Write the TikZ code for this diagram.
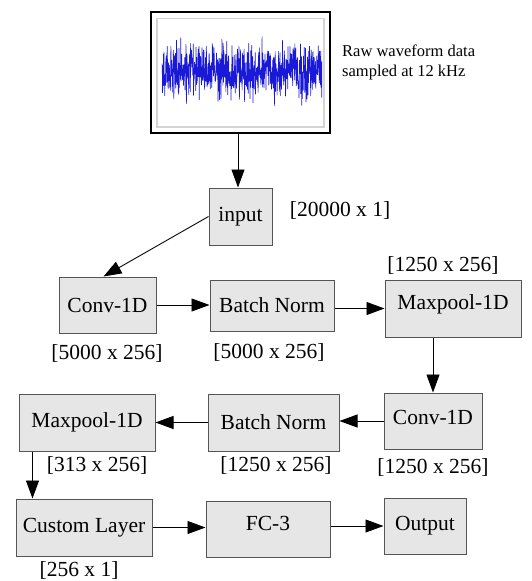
\documentclass[tikz,border=0pt]{standalone}
\usepackage{fontspec}
\setmainfont{Liberation Serif}
\usetikzlibrary{arrows.meta}
\definecolor{boxfill}{RGB}{230,230,230}
\definecolor{boxline}{RGB}{85,85,85}
\definecolor{wblue}{RGB}{25,25,215}
\definecolor{frame}{RGB}{212,212,212}
\tikzset{
  layer/.style={draw=boxline, fill=boxfill, line width=1pt, inner sep=0pt, font=\fontsize{21.5}{24}\selectfont},
  dimlabel/.style={inner sep=0pt, font=\fontsize{21.5}{24}\selectfont},
  flow/.style={-{Triangle[length=18pt,width=13pt]}, line width=0.9pt, black},
}
\begin{document}
\begin{tikzpicture}[x=1pt,y=-1pt]
\useasboundingbox (0,0) rectangle (532,581);
% waveform image
\node[draw=black, line width=1.1pt, fill=white, minimum width=179pt, minimum height=121pt, inner sep=0pt] (wave) at (240.5,72.5) {};
\draw[frame, line width=1.2pt] (157,18.5) rectangle (324,127);
\pgfmathsetseed{11}
\begin{scope}
\clip (159,21) rectangle (322,124);
\draw[wblue, line width=0.65pt, line join=round] plot[domain=162:322, samples=650] (\x,{72+13.5*(rand+rand+rand)});
\end{scope}
\node[anchor=west, inner sep=0pt, align=left, font=\fontsize{16.5}{20}\selectfont] (rawtxt) at (342,62) {Raw waveform data\\sampled at 12 kHz};
% layers
\node[layer, minimum width=63pt, minimum height=57pt] (input) at (240.5,216.5) {input};
\node[layer, minimum width=97pt, minimum height=56pt] (conv1) at (107.5,305) {Conv-1D};
\node[layer, minimum width=124pt, minimum height=51pt] (bn1) at (272,305.5) {Batch Norm};
\node[layer, minimum width=136pt, minimum height=57pt] (mp1) at (453,308.5) {};
\node[inner sep=0pt, font=\fontsize{21.5}{24}\selectfont] (mp1t) at (453,304) {Maxpool-1D};
\node[layer, minimum width=98pt, minimum height=56pt] (conv2) at (433,421) {};
\node[inner sep=0pt, font=\fontsize{21.5}{24}\selectfont] (conv2t) at (433,417) {Conv-1D};
\node[layer, minimum width=131pt, minimum height=57pt] (bn2) at (273.5,422.5) {Batch Norm};
\node[layer, minimum width=136pt, minimum height=57pt] (mp2) at (87,422.5) {Maxpool-1D};
\node[layer, minimum width=136pt, minimum height=57pt] (custom) at (84,527.5) {Custom Layer};
\node[layer, minimum width=124pt, minimum height=56pt] (fc3) at (268,529) {};
\node[inner sep=0pt, font=\fontsize{21.5}{24}\selectfont] (fc3t) at (268,523) {FC-3};
\node[layer, minimum width=82pt, minimum height=56pt] (output) at (425,526) {Output};
% dimension labels
\node[dimlabel] (l0) at (340,210) {[20000 x 1]};
\node[dimlabel] (l1) at (107,353) {[5000 x 256]};
\node[dimlabel] (l2) at (269,352) {[5000 x 256]};
\node[dimlabel] (l3) at (443,265) {[1250 x 256]};
\node[dimlabel] (l4) at (433,467) {[1250 x 256]};
\node[dimlabel] (l5) at (276,465) {[1250 x 256]};
\node[dimlabel] (l6) at (97,465) {[313 x 256]};
\node[dimlabel] (l7) at (79,570) {[256 x 1]};
% connectors
\coordinate (wout) at ([xshift=-2.5pt]wave.south);
\draw[flow] (wout) -- (wout |- input.north);
\draw[flow] (input.west) -- ([xshift=-4pt]conv1.north);
\draw[flow] (conv1.east) -- (conv1.east -| bn1.west);
\draw[flow] (bn1.east |- mp1.west) -- (mp1.west);
\draw[flow] (conv2.north |- mp1.south) -- (conv2.north);
\draw[flow] (conv2.west) -- (conv2.west -| bn2.east);
\draw[flow] (bn2.west) -- (bn2.west -| mp2.east);
\coordinate (mpout) at ([xshift=14pt]mp2.south west);
\draw[flow] (mpout) -- (mpout |- custom.north);
\draw[flow] (custom.east) -- (custom.east -| fc3.west);
\draw[flow] (output.west -| fc3.east) -- (output.west);
\end{tikzpicture}
\end{document}
